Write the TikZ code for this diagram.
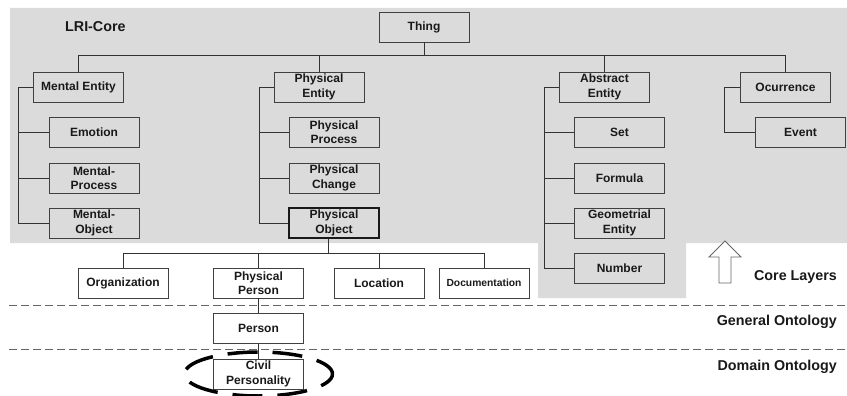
\documentclass[tikz,border=0pt]{standalone}
\usepackage{fontspec}
\setmainfont{Liberation Sans}
\begin{document}
\begin{tikzpicture}[x=1pt,y=-1pt,
  box/.style={draw=black!75, line width=0.9pt, minimum width=90pt, minimum height=30pt,
    inner sep=0pt, align=center, font=\fontsize{12}{14.5}\selectfont\bfseries, text=black!90},
  wbox/.style={box, fill=white},
  conn/.style={draw=black!80, line width=0.8pt},
  sep/.style={draw=black!60, line width=0.9pt, dash pattern=on 8pt off 4pt},
  layer/.style={font=\fontsize{14.3}{16}\selectfont\bfseries, text=black!90, inner sep=0pt}]
\useasboundingbox (0,0) rectangle (847,396);
% gray core region
\fill[black!14] (10,8) -- (847,8) -- (847,243) -- (686,243) -- (686,298) -- (538,298) -- (538,243) -- (10,243) -- cycle;
% separators
\draw[sep] (9,305) -- (847,305);
\draw[sep] (9,349) -- (847,349);
% nodes
\node[box] (thing) at (424,27) {Thing};
\node[layer, anchor=west] (lri) at (65,27) {LRI-Core};
\node[box] (ment) at (78.5,87) {Mental Entity};
\node[box] (phys) at (319,87) {Physical\\Entity};
\node[box] (abst) at (604.5,87) {Abstract\\Entity};
\node[box] (ocur) at (785.5,87) {Ocurrence};
\node[box] (emot) at (94,132) {Emotion};
\node[box] (mproc) at (94,178) {Mental-\\Process};
\node[box] (mobj) at (94,223) {Mental-\\Object};
\node[box] (pproc) at (334,132) {Physical\\Process};
\node[box] (pchg) at (334,178) {Physical\\Change};
\node[box, line width=1.4pt, draw=black!90] (pobj) at (334,223) {Physical\\Object};
\node[box] (set) at (619.5,132) {Set};
\node[box] (form) at (619.5,178) {Formula};
\node[box] (geo) at (619.5,223) {Geometrial\\Entity};
\node[box] (num) at (619.5,268) {Number};
\node[box] (event) at (800.5,132) {Event};
\node[wbox] (org) at (123,283) {Organization};
\node[wbox] (pper) at (258.5,283) {Physical\\Person};
\node[wbox] (loc) at (379,283) {Location};
\node[wbox, font=\fontsize{10.3}{12}\selectfont\bfseries] (doc) at (484,283) {Documentation};
\node[wbox] (person) at (258.5,328.5) {Person};
\node[wbox] (civil) at (258.5,374) {Civil\\Personality};
% layer labels
\node[layer, anchor=east] (core) at (837,277) {Core Layers};
\node[layer, anchor=east] (gen) at (837,322) {General Ontology};
\node[layer, anchor=east] (dom) at (837,367) {Domain Ontology};
% top bus
\coordinate (bus) at (424,55);
\draw[conn] (thing.south) -- (bus);
\draw[conn] (bus) -| (ment.north);
\draw[conn] (bus) -| (phys.north);
\draw[conn] (bus) -| (abst.north);
\draw[conn] (bus) -| (ocur.north);
% mental trunk
\coordinate (mt) at (18,0);
\draw[conn] (ment.west) -| (mt |- mobj.west) -- (mobj.west);
\draw[conn] (emot.west) -- (emot.west -| mt);
\draw[conn] (mproc.west) -- (mproc.west -| mt);
% physical trunk
\coordinate (pt) at (259,0);
\draw[conn] (phys.west) -| (pt |- pobj.west) -- (pobj.west);
\draw[conn] (pproc.west) -- (pproc.west -| pt);
\draw[conn] (pchg.west) -- (pchg.west -| pt);
% abstract trunk
\coordinate (at) at (544,0);
\draw[conn] (abst.west) -| (at |- num.west) -- (num.west);
\draw[conn] (set.west) -- (set.west -| at);
\draw[conn] (form.west) -- (form.west -| at);
\draw[conn] (geo.west) -- (geo.west -| at);
% occurrence trunk
\coordinate (ot) at (724,0);
\draw[conn] (ocur.west) -| (ot |- event.west) -- (event.west);
% physical object bus
\coordinate (pob) at ([xshift=-6pt]pobj.south);
\coordinate (bbus) at (328,253);
\draw[conn] (pob) -- (bbus);
\draw[conn] (bbus) -| (org.north);
\draw[conn] (bbus) -| (pper.north);
\draw[conn] (bbus) -| (loc.north);
\draw[conn] (bbus) -| (doc.north);
\draw[conn] (pper.south) -- (person.north);
\draw[conn] (person.south) -- (civil.north);
% ellipse highlight
\draw[black, line width=3.5pt, dash pattern=on 30pt off 15pt, dash phase=8pt] (civil.center) ellipse [x radius=74pt, y radius=22pt];
% hollow arrow
\draw[draw=black!60, fill=white, line width=0.8pt, line join=miter]
  (725,241) -- (741,257) -- (731,257) -- (731,283) -- (719,283) -- (719,257) -- (709,257) -- cycle;
\end{tikzpicture}
\end{document}
